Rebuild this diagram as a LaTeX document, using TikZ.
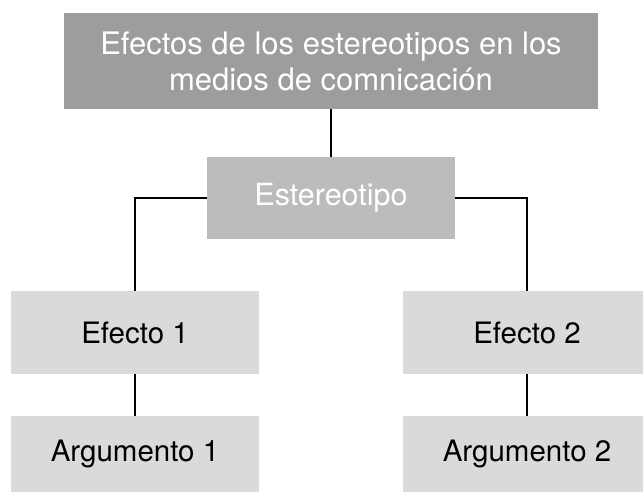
\documentclass[tikz,border=0pt]{standalone}
\usepackage{fontspec}
\setmainfont{TeX Gyre Heros}
\usetikzlibrary{positioning}
\definecolor{TitleGray}{HTML}{9D9D9C}
\definecolor{MidGray}{HTML}{BCBCBC}
\definecolor{LightGray}{HTML}{DADADA}

\begin{document}
\begin{tikzpicture}[x=1pt, y=-1pt,
    box/.style={fill=LightGray, minimum width=248pt, minimum height=83pt, inner sep=0pt, align=center, font=\fontsize{29.5}{37}\selectfont},
    link/.style={draw=black, line width=1.5pt}
  ]
    \clip (0,0) rectangle (643,492);

    % Title and stereotype
    \node[box, fill=TitleGray, text=white, minimum width=534pt, minimum height=96pt, font=\fontsize{31}{36}\selectfont] (title) at (331, 61) {Efectos de los estereotipos en los\\medios de comnicación};
    \node[box, fill=MidGray, text=white, minimum height=82pt, font=\fontsize{30.5}{37}\selectfont] (est) at (331, 198) {Estereotipo};

    % Effects
    \node[box] (ef1) at (135, 332.5) {Efecto 1};
    \node[box] (ef2) at (527, 332.5) {Efecto 2};

    % Arguments
    \node[box, minimum height=76pt] (arg1) at (135, 454) {Argumento 1};
    \node[box, minimum height=76pt] (arg2) at (527, 454) {Argumento 2};

    \draw[link] (title) -- (est);
    \draw[link] (est.west) -| (ef1.north);
    \draw[link] (est.east) -| (ef2.north);
    \draw[link] (ef1) -- (arg1);
    \draw[link] (ef2) -- (arg2);
  \end{tikzpicture}
\end{document}
